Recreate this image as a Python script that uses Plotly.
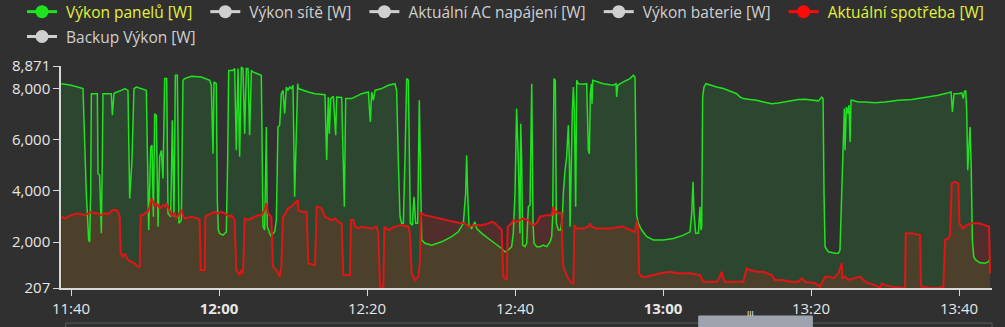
import pandas as pd
import plotly.graph_objects as go

# ---------------- data (minutes after 11:40, watts) ----------------
BASE = pd.Timestamp("2024-06-15 11:40:00")

pv_min = [-1.31, 0.04, 1.62, 2.07, 2.39, 2.52, 2.66, 2.75, 3.56, 3.65, 3.87, 4.10, 4.23, 4.32,
          5.45, 5.59, 5.81, 5.90, 7.03, 7.25, 7.70, 7.93, 8.24, 8.51, 8.83, 9.51, 10.18, 10.50,
          10.77, 10.95, 11.13, 11.31, 11.53, 11.76, 11.98, 12.21, 12.43, 12.66, 12.93, 13.11,
          13.47, 13.69, 13.92, 14.10, 14.37, 14.59, 14.91, 15.13, 15.36, 16.26, 17.61, 18.74,
          18.96, 19.19, 19.32, 19.64, 19.77, 19.91, 20.09, 20.54, 20.99, 21.17, 21.31, 21.89,
          22.12, 22.34, 22.57, 22.79, 23.02, 23.24, 23.47, 23.69, 23.92, 24.14, 24.37, 24.59,
          25.27, 25.72, 25.95, 26.17, 26.40, 26.53, 26.85, 27.07, 27.30, 27.52, 27.75, 27.97,
          28.20, 28.42, 28.65, 28.87, 29.10, 29.32, 29.55, 29.77, 30.00, 30.22,
          30.63, 30.72, 32.07, 32.97, 34.32, 34.55, 34.77, 34.91, 35.09, 35.45, 35.77, 35.90,
          36.58, 36.94, 37.12, 37.93, 39.28, 40.18, 40.45, 40.63, 40.86, 41.08, 41.98, 42.88,
          43.78, 44.01, 44.23, 44.46, 44.68, 44.91, 45.13, 45.36, 45.59, 45.72, 45.86, 46.13,
          46.35, 46.58, 46.85, 47.07, 47.25, 47.39, 47.84, 48.74, 50.09, 51.44, 52.34, 53.02,
          53.33, 53.47, 53.60, 53.78, 54.14, 54.46, 54.59, 54.82, 55.50, 56.40, 57.30, 58.20,
          58.65, 59.10, 59.55, 59.77, 60.00, 60.22, 60.45, 60.67, 60.77, 60.90, 61.04, 61.35,
          61.58, 61.80, 62.03,
          62.26, 62.44, 62.57, 62.93, 63.38, 63.83, 64.28, 64.73, 64.96, 65.09, 65.27, 65.45,
          65.59, 65.86, 66.17, 66.40, 66.53, 66.76, 66.98, 67.21, 67.35, 67.44, 67.57, 67.75,
          67.89, 68.02, 68.20, 68.34, 68.56, 69.24, 69.69, 69.91, 70.05, 70.18, 70.32, 70.41,
          70.50, 71.04, 71.94, 73.29, 73.65, 73.74, 73.88, 74.64, 75.54, 75.99, 76.22, 76.35,
          76.44, 76.67, 77.12, 77.80, 78.70, 80.05, 81.40, 82.75, 83.65, 83.88, 84.06, 84.19,
          84.42, 84.78, 85.00, 85.14, 85.23, 85.36, 85.54, 85.81, 86.35, 87.25, 88.16, 89.06,
          89.96, 90.41, 90.86, 91.76, 92.66, 93.56,
          94.69, 95.59, 96.49, 97.39, 98.30, 99.20, 100.10, 101.00, 101.45, 101.63, 101.76,
          101.90, 102.35, 103.25, 103.70, 103.92, 104.15, 104.38, 104.51, 104.60, 104.78,
          104.96, 105.14, 105.28, 105.41, 105.59, 106.40, 107.30, 108.65, 110.01, 111.81,
          113.61, 115.41, 117.21, 118.57, 118.93, 119.11, 119.33, 119.92, 120.37, 120.59,
          120.73, 120.91, 121.04, 121.18, 121.36, 121.49, 121.63, 121.81, 121.99, 122.26,
          122.84, 123.52, 123.97, 124.20]

pv_w = [8180, 8120, 7990, 3900, 2080, 2010, 3900, 7790, 7790, 4675, 4610, 2340, 5200, 7790,
        7790, 6950, 7790, 7820, 7950, 7990, 7920, 3700, 5200, 7990, 8050, 7990, 7920, 2470,
        5710, 5780, 2990, 7010, 6950, 2600, 5330, 5580, 4480, 8380, 8380, 3120,
        2990, 6750, 2990, 8510, 8510, 2730, 2860, 8310, 8380, 8470, 8440, 8310,
        8120, 5450, 8250, 8180, 3640, 2470, 2340, 2270, 2400, 5200, 8700, 8700,
        8770, 5580, 8770, 5330, 8830, 8770, 6230, 8770, 8770, 6170, 8700, 8640,
        8570, 8510, 2600, 2470, 6490, 2600, 2340, 2210, 2340, 2400, 2860, 6490,
        6560, 7790, 7920, 7010, 8050, 7920, 8050, 7990, 8120, 3770,
        8180, 7990, 7860, 7790, 7750, 5200, 7660, 6230, 7600, 7690, 6170, 7660,
        7640, 3380, 7600, 7600, 7790, 7860, 6690, 7860, 7530, 7920, 7990, 8120,
        8180, 7920, 5200, 2990, 2730, 2730, 5200, 8380, 8310, 5200, 2730, 2660,
        3770, 2730, 2730, 7530, 3900, 2080, 1950, 1880, 2010, 2210, 2400, 2730,
        3900, 5390, 3900, 2660, 2530, 2730, 2790, 2530, 2340, 2140, 1950, 1750,
        1620, 1690, 1820, 2340, 3900, 7210, 5200, 2340, 6620, 5200, 1880, 1820,
        1950, 3380, 3440,
        8180, 2730, 1950, 1820, 1820, 1880, 1820, 2010, 2210, 2990, 8380, 8310,
        2730, 2470, 2470, 2990, 3900, 4800, 5330, 6560, 5200, 2600, 5200, 7140,
        8050, 7140, 3380, 8310, 8180, 8160, 8180, 5580, 5450, 7790, 8180, 7400,
        8310, 8250, 8180, 8120, 8180, 7660, 8120, 8250, 8380, 8510, 8440, 5200,
        3050, 2730, 2470, 2210, 2080, 2080, 2140, 2270, 2400, 3120, 4350, 3120,
        2340, 2340, 3380, 2470, 2600, 7660, 8050, 8180, 8120, 8050, 7990, 7900,
        7790, 7660, 7600, 7560, 7530, 7470,
        7400, 7430, 7470, 7510, 7560, 7570, 7530, 7510, 7660, 7600, 3900,
        1820, 1620, 1560, 1560, 1690, 3900, 6100, 7210, 5580, 7270,
        7010, 7340, 5910, 7530, 7530, 7470, 7470, 7440, 7470, 7530,
        7560, 7640, 7730, 7830, 7860, 7080, 7790, 7790, 7820, 7600,
        7860, 7920, 7140, 4800, 6100, 6490, 5200, 2080, 1430, 1300,
        1190, 1170, 1230, 1360]

load_min = [-1.31, -0.86, 0.04, 0.95, 1.85, 2.30, 2.75, 3.20, 3.65, 4.10, 4.55, 5.00, 5.45,
            5.68, 6.13, 6.35, 6.58, 6.71, 7.03, 7.25, 7.70, 8.15, 8.60, 9.05, 9.28, 9.41, 9.73,
            9.95, 10.40, 10.63, 10.85, 11.08, 11.31, 11.53, 11.76, 11.98, 12.21, 12.43, 12.66,
            12.88, 13.11, 13.33, 13.56, 13.78, 14.01, 14.23, 14.46, 14.68, 14.91, 15.13, 15.36,
            16.26, 17.16, 17.39, 17.52, 18.06, 18.15, 18.96, 19.41, 19.86, 20.32, 20.77, 21.44,
            21.67, 22.12, 22.34, 22.57, 22.79, 23.02, 23.24, 23.47, 23.92, 24.37, 24.82, 25.27,
            25.72, 26.17, 26.40, 26.62, 27.07, 27.30, 27.75, 28.20, 28.42, 28.65, 28.87, 29.32,
            29.77, 30.22, 30.68,
            30.72, 31.17, 31.85, 32.07, 32.97, 33.20, 33.42, 33.87, 34.32, 34.77, 35.22, 35.68,
            36.13, 36.58, 36.80, 37.70, 37.84, 38.15, 38.38, 38.83, 39.28, 40.63, 41.31, 41.53,
            41.76, 42.21, 42.34, 42.88, 43.78, 44.68, 45.59, 45.81, 46.04, 46.49, 46.94, 47.16,
            47.30, 47.84, 48.74, 49.64, 50.54, 51.44, 52.34, 53.24, 53.69, 54.59, 55.50, 56.40,
            56.85, 57.30, 57.75, 58.20, 58.42, 58.87, 59.01, 59.32, 59.55, 59.77, 60.22, 60.67,
            61.13, 61.80,
            62.03, 62.48, 62.93, 63.38, 64.28, 64.96, 65.18, 65.41, 65.63, 65.86, 66.31, 66.40,
            66.53, 66.98, 67.21, 67.66, 67.89, 68.02, 68.34, 69.24, 69.91, 70.14, 70.36, 71.04,
            72.84, 74.19, 74.64, 75.54, 76.22, 76.44, 76.67, 76.76, 77.12, 77.80, 78.70, 79.60,
            80.95, 81.85, 83.65, 85.00, 85.45, 86.35, 87.25, 87.71, 87.93, 88.16, 88.38, 90.86,
            91.09, 91.31, 91.76, 92.66, 93.56,
            94.69, 95.14, 96.04, 97.39, 98.30, 98.75, 99.20, 100.55, 101.22, 101.67, 101.90,
            102.57, 103.02, 103.47, 103.70, 103.92, 104.15, 104.24, 104.60, 105.05, 105.95,
            106.63, 107.08, 107.75, 108.65, 109.33, 109.56, 110.01, 110.91, 112.26, 112.71,
            112.80, 113.61, 114.74, 114.87, 116.31, 117.21, 117.89, 118.11, 118.57, 118.79,
            119.02, 119.47, 119.92, 120.05, 120.59, 121.04, 121.72, 122.62, 123.52, 124.06,
            124.20]

load_w = [2990, 2920, 3050, 3120, 3050, 3120, 3180, 3120, 3120, 3050, 3120, 3090, 3180,
          3250, 3250, 3180, 2990, 1560, 1430, 1560, 1300, 1230, 1170, 1040, 1040, 3050, 3050,
          3120, 3180, 3380, 3700, 3570, 3380, 3510, 3440, 3310, 3380, 3440, 3380,
          3510, 3380, 3250, 3050, 3050, 3120, 2920, 3050, 3180, 3250, 3050, 2920,
          2990, 2920, 2860, 910, 910, 2990, 3120, 3180, 3120, 3180, 3120, 2990,
          3050, 2860, 910, 780, 710, 910, 780, 2920, 2860, 2920, 2990, 3050,
          3050, 3250, 3510, 3120, 2990, 1040, 910, 650, 1040, 2990, 3050, 3310,
          3380, 3510, 3640,
          3250, 3180, 3180, 1170, 1100, 3380, 3380, 3310, 2990, 2920, 2860, 2920,
          2790, 2730, 710, 710, 2860, 2860, 2600, 2530, 2600, 2530, 2600, 2340,
          260, 260, 2600, 2470, 2600, 2660, 2600, 2340, 780, 520, 650, 1300,
          3120, 3050, 2990, 2920, 2860, 2790, 2750, 2730, 2600, 2660, 2660, 2730,
          2790, 2730, 2600, 2470, 650, 520, 2600, 2660, 2730, 2860, 2790, 2860,
          2920, 2860,
          2730, 2660, 2730, 2990, 3050, 3050, 3380, 3120, 3180, 3120, 3120, 1820,
          1040, 710, 580, 390, 390, 2660, 2530, 2530, 2600, 2730, 2600, 2530,
          2530, 2600, 2600, 2470, 2400, 2860, 2470, 780, 650, 650, 710, 780,
          840, 780, 780, 710, 450, 450, 450, 650, 840, 590, 450, 450,
          780, 970, 910, 840, 840,
          710, 520, 520, 450, 450, 590, 450, 390, 260, 520, 650,
          650, 590, 710, 780, 970, 1170, 590, 650, 520, 590,
          650, 520, 390, 320, 210, 390, 320, 260, 210, 210,
          2340, 2340, 2270, 260, 210, 210, 260, 2080, 2140, 2270,
          4290, 4350, 4290, 2730, 2530, 2660, 2730, 2730, 2660, 2600,
          780]

legend_names = ["Výkon panelů [W]", "Výkon sítě [W]", "Aktuální AC napájení [W]",
                "Výkon baterie [W]", "Aktuální spotřeba [W]", "Backup Výkon [W]"]
legend_active = [True, False, False, False, True, False]
legend_row = ["legend", "legend", "legend", "legend", "legend", "legend2"]

x_ticks = ["11:40", "12:00", "12:20", "12:40", "13:00", "13:20", "13:40"]
y_ticks = [207, 2000, 4000, 6000, 8000, 8871]

# ---------------- styling ----------------
BG = "#303030"
GREEN = "#1fe31f"
RED = "#e01616"
GREY = "#cfcfcf"
ACTIVE_TXT = "#e2f23c"
FONT = "Open Sans"
NB = "\u00a0"

pv_t = BASE + pd.to_timedelta(pv_min, unit="min")
load_t = BASE + pd.to_timedelta(load_min, unit="min")

fig = go.Figure()
# fills first
fig.add_trace(go.Scatter(x=pv_t, y=pv_w, mode="lines", line=dict(width=0, color=GREEN),
                         fill="tozeroy", fillcolor="rgba(20,230,40,0.12)",
                         showlegend=False, hoverinfo="skip"))
fig.add_trace(go.Scatter(x=load_t, y=load_w, mode="lines", line=dict(width=0, color=RED),
                         fill="tozeroy", fillcolor="rgba(255,40,25,0.16)",
                         showlegend=False, hoverinfo="skip"))
# lines
fig.add_trace(go.Scatter(x=pv_t, y=pv_w, mode="lines", line=dict(width=1.5, color=GREEN),
                         showlegend=False))
fig.add_trace(go.Scatter(x=load_t, y=load_w, mode="lines", line=dict(width=2, color=RED),
                         showlegend=False))

# legend entries
leg_colors = [GREEN, GREY, GREY, GREY, "#ff0a0a", GREY]
for i, (nm, act, col, lg) in enumerate(zip(legend_names, legend_active, leg_colors, legend_row)):
    core = f'<span style="color:{ACTIVE_TXT}">{nm}</span>' if act else nm
    label = NB + core + ("" if i >= 4 else NB * 2)
    fig.add_trace(go.Scatter(x=[None], y=[None], mode="lines+markers", name=label,
                             legend=lg, line=dict(width=3, color=col),
                             marker=dict(size=13, color=col)))

tickvals = [BASE.normalize() + pd.Timedelta(hours=int(s[:2]), minutes=int(s[3:])) for s in x_ticks]
ticktext = [f"<b>{s}</b>" if s.endswith(":00") else s for s in x_ticks]

leg_common = dict(orientation="h", xref="paper", xanchor="left", yref="paper",
                  yanchor="middle", bgcolor="rgba(0,0,0,0)", font=dict(size=15.5, color=GREY),
                  itemwidth=30, traceorder="normal")

fig.update_layout(
    width=1005, height=327, autosize=False,
    margin=dict(l=61, r=13, t=66, b=39, autoexpand=False),
    paper_bgcolor=BG, plot_bgcolor=BG,
    font=dict(family=FONT, size=15, color="#e6e6e6"),
    legend=dict(x=-0.0419, y=1.243, **leg_common),
    legend2=dict(x=-0.0419, y=1.131, **leg_common),
    xaxis=dict(range=[BASE - pd.Timedelta(minutes=1.351), BASE + pd.Timedelta(minutes=124.46)],
               tickvals=tickvals, ticktext=ticktext, showgrid=False, zeroline=False,
               showline=True, linecolor="#d8d8d8", linewidth=1.5, ticks="outside",
               ticklen=6, tickcolor="#d8d8d8", tickfont=dict(size=15, color="#e6e6e6")),
    yaxis=dict(range=[207, 8871], tickvals=y_ticks, tickformat=",d", showgrid=False,
               zeroline=False, showline=True, linecolor="#d8d8d8", linewidth=1.5,
               ticks="outside", ticklen=6, tickcolor="#d8d8d8",
               tickfont=dict(size=15, color="#e6e6e6")),
    showlegend=True,
)

# navigator / scrollbar decoration below the axis
fig.add_shape(type="rect", xref="paper", yref="paper", x0=0.005, x1=1.0, y0=-0.30, y1=-0.158,
              line=dict(color="#5a5a5a", width=1), fillcolor="rgba(0,0,0,0)", layer="above")
fig.add_shape(type="rect", xref="paper", yref="paper", x0=0.685, x1=0.807, y0=-0.30, y1=-0.126,
              line=dict(color="#9ea3ad", width=1), fillcolor="#9ea3ad", layer="above")
fig.add_annotation(text="III", xref="paper", yref="paper", x=0.746, y=-0.145, showarrow=False,
                   font=dict(size=8, color="#ffffff"))

fig.write_html("out.html")
